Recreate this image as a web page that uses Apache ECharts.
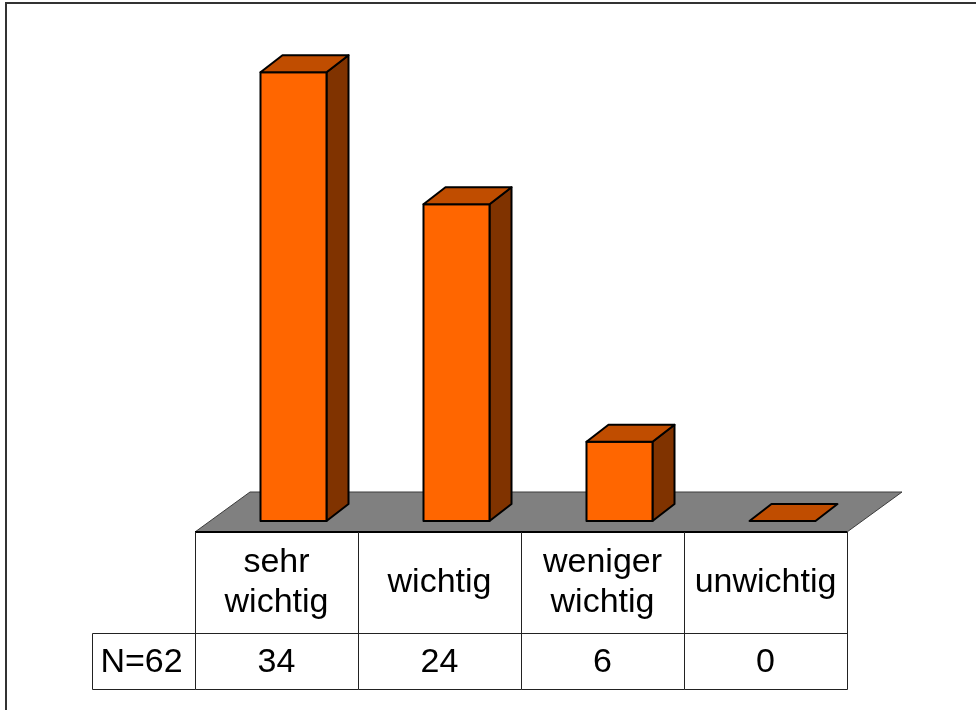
<!DOCTYPE html>
<html>
<head>
<meta charset="utf-8">
<script src="https://cdn.jsdelivr.net/npm/echarts@6/dist/echarts.min.js"></script>
<style>
html,body{margin:0;padding:0;background:#fff;}
#chart{width:976px;height:710px;}
</style>
</head>
<body>
<div id="chart"></div>
<script>
// Survey answers and how often each was given
const categories = ['sehr\nwichtig', 'wichtig', 'weniger\nwichtig', 'unwichtig'];
const counts = [34, 24, 6, 0];
const totalLabel = 'N=62';

const FONT_FAMILY = '"Liberation Sans", Arial, sans-serif';
const FONT_SIZE = 34;
const FRONT = '#ff6600', TOP = '#c04d00', SIDE = '#803300';
// depth of the floor, and where the bars stand on it
const FLOOR_DX = 55, FLOOR_DY = -40;
const BAR_OFF_X = 17, BAR_OFF_Y = -11;
const BAR_DX = 22, BAR_DY = -17;
const BAR_RATIO = 0.405;
// data table under the floor
const HEAD_H = 101, ROW_H = 56, LEAD_W = 103;

const chart = echarts.init(document.getElementById('chart'), null, { renderer: 'canvas' });

// crisp 1px lines
const px = (v) => Math.round(v) + 0.5;

function floorItem(params, api) {
  const cs = params.coordSys;
  const x0 = cs.x, x1 = cs.x + cs.width, y = cs.y + cs.height;
  return {
    type: 'group',
    children: [
      {
        type: 'polygon',
        shape: { points: [[x0, y], [x1, y], [x1 + FLOOR_DX, y + FLOOR_DY], [x0 + FLOOR_DX, y + FLOOR_DY]] },
        style: { fill: '#808080', stroke: '#3c3c3c', lineWidth: 1 }
      },
      {
        type: 'line',
        shape: { x1: x0, y1: y, x2: x1, y2: y },
        style: { stroke: '#000', lineWidth: 2 }
      }
    ]
  };
}

function barItem(params, api) {
  const i = api.value(0), v = api.value(1);
  const base = api.coord([i, 0]);
  const top = api.coord([i, v]);
  const band = api.size([1, 0])[0];
  const w = band * BAR_RATIO;
  const xl = base[0] - w / 2 + BAR_OFF_X, xr = xl + w;
  const yb = base[1] + BAR_OFF_Y, yt = top[1] + BAR_OFF_Y;
  const st = { stroke: '#000', lineWidth: 2, lineJoin: 'round' };
  const children = [];
  if (yb - yt > 0.5) {
    children.push({
      type: 'polygon',
      shape: { points: [[xr, yb], [xr + BAR_DX, yb + BAR_DY], [xr + BAR_DX, yt + BAR_DY], [xr, yt]] },
      style: Object.assign({ fill: SIDE }, st)
    });
    children.push({
      type: 'rect',
      shape: { x: xl, y: yt, width: w, height: yb - yt },
      style: Object.assign({ fill: FRONT }, st)
    });
  }
  children.push({
    type: 'polygon',
    shape: { points: [[xl, yt], [xr, yt], [xr + BAR_DX, yt + BAR_DY], [xl + BAR_DX, yt + BAR_DY]] },
    style: Object.assign({ fill: TOP }, st)
  });
  return { type: 'group', children: children };
}

function textEl(x, y, str) {
  return {
    type: 'text',
    x: x, y: y,
    style: {
      text: str,
      fill: '#000',
      fontFamily: FONT_FAMILY,
      fontSize: FONT_SIZE,
      lineHeight: 40,
      align: 'center', verticalAlign: 'middle',
      textAlign: 'center', textVerticalAlign: 'middle'
    }
  };
}

function tableItem(params, api) {
  const i = api.value(0), v = api.value(1);
  const c = api.coord([i, 0]);
  const band = api.size([1, 0])[0];
  const x0 = px(c[0] - band / 2), x1 = px(c[0] + band / 2);
  const y0 = c[1], y1 = px(y0 + HEAD_H), y2 = px(y0 + HEAD_H + ROW_H);
  const ln = { stroke: '#222', lineWidth: 1 };
  const children = [
    { type: 'line', shape: { x1: x0, y1: y0, x2: x0, y2: y2 }, style: ln },
    { type: 'line', shape: { x1: x0, y1: y1, x2: x1, y2: y1 }, style: ln },
    { type: 'line', shape: { x1: x0, y1: y2, x2: x1, y2: y2 }, style: ln },
    textEl(c[0], (y0 + y1) / 2, categories[i]),
    textEl(c[0], (y1 + y2) / 2 + 1, String(v))
  ];
  if (i === categories.length - 1) {
    children.push({ type: 'line', shape: { x1: x1, y1: y0, x2: x1, y2: y2 }, style: ln });
  }
  if (i === 0) {
    const xl = px(c[0] - band / 2 - LEAD_W);
    children.push({ type: 'line', shape: { x1: xl, y1: y1, x2: x0, y2: y1 }, style: ln });
    children.push({ type: 'line', shape: { x1: xl, y1: y2, x2: x0, y2: y2 }, style: ln });
    children.push({ type: 'line', shape: { x1: xl, y1: y1, x2: xl, y2: y2 }, style: ln });
    children.push(textEl(c[0] - band / 2 - LEAD_W / 2 - 2, (y1 + y2) / 2 + 1, totalLabel));
  }
  return { type: 'group', children: children };
}

const rows = categories.map((c, i) => [i, counts[i]]);

chart.setOption({
  animation: false,
  backgroundColor: '#fff',
  grid: { left: 195, right: 129, top: 70, bottom: 178 },
  xAxis: { type: 'category', data: categories, show: false },
  yAxis: { type: 'value', min: 0, max: 35, show: false },
  graphic: [{
    type: 'rect',
    shape: { x: 6, y: 3, width: 1200, height: 1000 },
    style: { fill: 'none', stroke: '#333', lineWidth: 2 },
    silent: true
  }],
  series: [
    { type: 'custom', name: 'floor', z: 1, silent: true, data: [[0, 0]], renderItem: floorItem },
    { type: 'custom', name: 'Anzahl', z: 2, data: rows, renderItem: barItem },
    { type: 'custom', name: 'Tabelle', z: 3, silent: true, data: rows, renderItem: tableItem }
  ]
});
</script>
</body>
</html>
